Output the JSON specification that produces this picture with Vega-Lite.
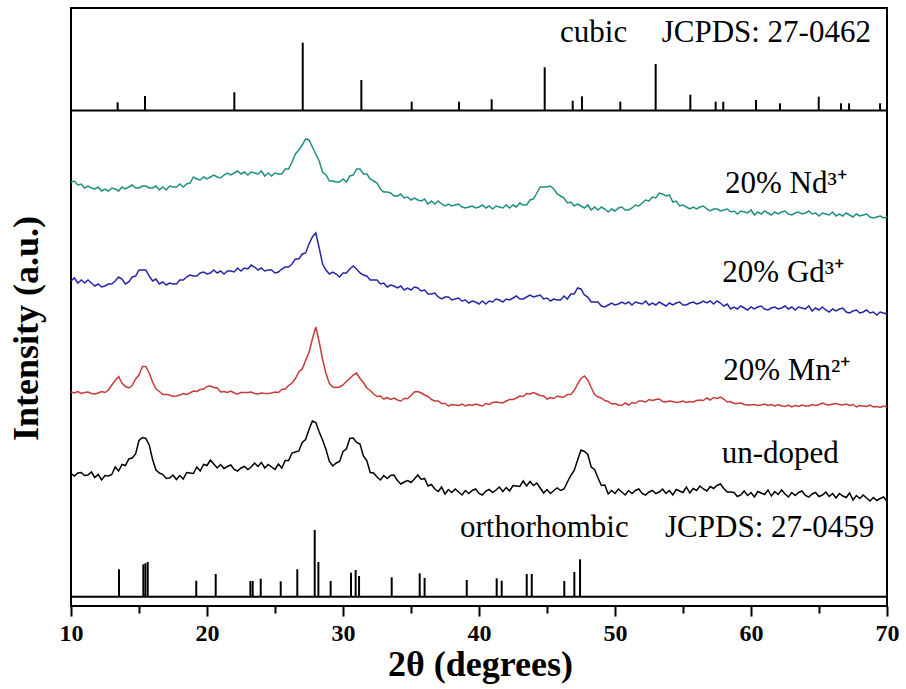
{
  "$schema": "https://vega.github.io/schema/vega-lite/v6.json",
  "width": 816,
  "height": 598,
  "autosize": "none",
  "padding": {"left": 71, "top": 8, "right": 19, "bottom": 83},
  "background": "white",
  "config": {"view": {"stroke": "black", "strokeWidth": 2}, "font": "Liberation Serif"},
  "datasets": {
    "curves": [
{"x":10,"nd":424,"gd":325,"mn":214,"un":132.5},{"x":10.25,"nd":425,"gd":328,"mn":213,"un":130},{"x":10.5,"nd":421,"gd":323,"mn":214.5,"un":133},{"x":10.75,"nd":422,"gd":326,"mn":212.5,"un":133.5},{"x":11,"nd":418,"gd":323,"mn":213.5,"un":130.5},{"x":11.25,"nd":420,"gd":326,"mn":214,"un":131},{"x":11.5,"nd":418,"gd":323,"mn":212.5,"un":134},{"x":11.75,"nd":417,"gd":320,"mn":212,"un":128.5},{"x":12,"nd":419,"gd":322,"mn":213,"un":131.5},{"x":12.25,"nd":415,"gd":319,"mn":214.5,"un":126},{"x":12.5,"nd":417,"gd":320,"mn":213.5,"un":130.5},{"x":12.75,"nd":415,"gd":322,"mn":216,"un":130},{"x":13,"nd":418,"gd":322,"mn":221,"un":131.5},{"x":13.25,"nd":417,"gd":325,"mn":225.5,"un":139},{"x":13.5,"nd":415,"gd":329,"mn":229.5,"un":135},{"x":13.75,"nd":419,"gd":327,"mn":223,"un":141.5},{"x":14,"nd":417,"gd":322,"mn":219.5,"un":140.5},{"x":14.25,"nd":419,"gd":324,"mn":218,"un":147},{"x":14.5,"nd":421,"gd":329,"mn":220.5,"un":148},{"x":14.75,"nd":418,"gd":330,"mn":227,"un":152},{"x":15,"nd":418,"gd":336,"mn":231,"un":165.5},{"x":15.25,"nd":420,"gd":336,"mn":239.5,"un":168.5},{"x":15.5,"nd":420,"gd":336,"mn":239.5,"un":167.5},{"x":15.75,"nd":418,"gd":330,"mn":233,"un":161},
{"x":16,"nd":418,"gd":325,"mn":224,"un":146.5},{"x":16.25,"nd":420,"gd":327,"mn":217,"un":136},{"x":16.5,"nd":416,"gd":322,"mn":214.5,"un":133},{"x":16.75,"nd":419,"gd":324,"mn":211.5,"un":131.5},{"x":17,"nd":416,"gd":321,"mn":211.5,"un":127.5},{"x":17.25,"nd":420,"gd":323,"mn":211,"un":128},{"x":17.5,"nd":419,"gd":322,"mn":209.5,"un":131},{"x":17.75,"nd":419,"gd":322,"mn":210,"un":126.5},{"x":18,"nd":422,"gd":326,"mn":211,"un":130.5},{"x":18.25,"nd":419,"gd":326,"mn":212.5,"un":127},{"x":18.5,"nd":422,"gd":329,"mn":211.5,"un":133.5},{"x":18.75,"nd":423,"gd":331,"mn":213,"un":133},{"x":19,"nd":429,"gd":330,"mn":215,"un":132.5},{"x":19.25,"nd":427,"gd":330,"mn":214.5,"un":139},{"x":19.5,"nd":426,"gd":333,"mn":216.5,"un":135},{"x":19.75,"nd":429,"gd":334,"mn":217,"un":141.5},{"x":20,"nd":427,"gd":332,"mn":219.5,"un":140.5},{"x":20.25,"nd":429,"gd":333,"mn":220,"un":146},{"x":20.5,"nd":431,"gd":336,"mn":218.5,"un":142},{"x":20.75,"nd":429,"gd":333,"mn":218,"un":138},{"x":21,"nd":428,"gd":335,"mn":214,"un":141.5},{"x":21.25,"nd":431,"gd":332,"mn":214.5,"un":137.5},{"x":21.5,"nd":433,"gd":335,"mn":213.5,"un":139.5},{"x":21.75,"nd":431,"gd":335,"mn":215,"un":141},
{"x":22,"nd":433,"gd":334,"mn":213,"un":136.5},{"x":22.25,"nd":435,"gd":338,"mn":212,"un":135},{"x":22.5,"nd":432,"gd":335,"mn":213.5,"un":138},{"x":22.75,"nd":434,"gd":338,"mn":213.5,"un":139.5},{"x":23,"nd":431,"gd":337,"mn":213.5,"un":136.5},{"x":23.25,"nd":434,"gd":341,"mn":214,"un":139},{"x":23.5,"nd":433,"gd":339,"mn":212.5,"un":143},{"x":23.75,"nd":432,"gd":336,"mn":212,"un":139.5},{"x":24,"nd":435,"gd":338,"mn":213,"un":143.5},{"x":24.25,"nd":430,"gd":335,"mn":212.5,"un":138},{"x":24.5,"nd":433,"gd":336,"mn":212.5,"un":141.5},{"x":24.75,"nd":430,"gd":336,"mn":213,"un":139},{"x":25,"nd":433,"gd":333,"mn":214,"un":136.5},{"x":25.25,"nd":432,"gd":334,"mn":213.5,"un":142},{"x":25.5,"nd":432,"gd":337,"mn":216.5,"un":138},{"x":25.75,"nd":437,"gd":339,"mn":217,"un":145.5},{"x":26,"nd":437,"gd":339,"mn":220.5,"un":145.5},{"x":26.25,"nd":444,"gd":342,"mn":223,"un":153},{"x":26.5,"nd":452,"gd":347,"mn":227.5,"un":154},{"x":26.75,"nd":456,"gd":347,"mn":234,"un":155},{"x":27,"nd":461,"gd":352,"mn":237,"un":163.5},{"x":27.25,"nd":467,"gd":353,"mn":245.5,"un":166.5},{"x":27.5,"nd":466,"gd":362,"mn":253.5,"un":176.5},{"x":27.75,"nd":459,"gd":369,"mn":267,"un":185},
{"x":28,"nd":452,"gd":373,"mn":279,"un":183.5},{"x":28.25,"nd":445,"gd":358,"mn":264,"un":174},{"x":28.5,"nd":434,"gd":342,"mn":246.5,"un":166},{"x":28.75,"nd":431,"gd":336,"mn":232.5,"un":156.5},{"x":29,"nd":425,"gd":332,"mn":222.5,"un":144.5},{"x":29.25,"nd":425,"gd":334,"mn":219,"un":140},{"x":29.5,"nd":424,"gd":332,"mn":218.5,"un":143},{"x":29.75,"nd":424,"gd":329,"mn":219,"un":144.5},{"x":30,"nd":427,"gd":333,"mn":221,"un":154.5},{"x":30.25,"nd":424,"gd":333,"mn":224.5,"un":157},{"x":30.5,"nd":430,"gd":337,"mn":227.5,"un":167.5},{"x":30.75,"nd":431,"gd":340,"mn":231,"un":168},{"x":31,"nd":437,"gd":337,"mn":233,"un":163.5},{"x":31.25,"nd":437,"gd":333,"mn":227.5,"un":162},{"x":31.5,"nd":432,"gd":331,"mn":223.5,"un":150},{"x":31.75,"nd":432,"gd":330,"mn":218,"un":145.5},{"x":32,"nd":427,"gd":326,"mn":215.5,"un":133.5},{"x":32.25,"nd":425,"gd":326,"mn":212,"un":133},{"x":32.5,"nd":423,"gd":326,"mn":209.5,"un":129},{"x":32.75,"nd":417,"gd":322,"mn":210,"un":126},{"x":33,"nd":414,"gd":323,"mn":207,"un":130.5},{"x":33.25,"nd":414,"gd":319,"mn":208.5,"un":127.5},{"x":33.5,"nd":413,"gd":321,"mn":206.5,"un":130.5},{"x":33.75,"nd":410,"gd":320,"mn":208,"un":131},
{"x":34,"nd":410,"gd":318,"mn":206,"un":125.5},{"x":34.25,"nd":412,"gd":320,"mn":205,"un":122},{"x":34.5,"nd":408,"gd":316,"mn":207.5,"un":124},{"x":34.75,"nd":409,"gd":318,"mn":207.5,"un":125.5},{"x":35,"nd":406,"gd":316,"mn":210.5,"un":123.5},{"x":35.25,"nd":408,"gd":319,"mn":214,"un":127},{"x":35.5,"nd":406,"gd":318,"mn":214.5,"un":131},{"x":35.75,"nd":405,"gd":315,"mn":213,"un":126.5},{"x":36,"nd":407,"gd":316,"mn":211,"un":127.5},{"x":36.25,"nd":402,"gd":312,"mn":209.5,"un":120},{"x":36.5,"nd":405,"gd":312,"mn":206.5,"un":121.5},{"x":36.75,"nd":402,"gd":313,"mn":205,"un":117},{"x":37,"nd":405,"gd":309,"mn":205,"un":114.5},{"x":37.25,"nd":402,"gd":307,"mn":202.5,"un":119},{"x":37.5,"nd":400,"gd":309,"mn":202.5,"un":112},{"x":37.75,"nd":402,"gd":309,"mn":200,"un":116.5},{"x":38,"nd":400,"gd":306,"mn":201.5,"un":113.5},{"x":38.25,"nd":401,"gd":307,"mn":201,"un":117},{"x":38.5,"nd":402,"gd":308,"mn":200.5,"un":114},{"x":38.75,"nd":399,"gd":305,"mn":202,"un":111},{"x":39,"nd":398,"gd":306,"mn":200,"un":115.5},{"x":39.25,"nd":399,"gd":303,"mn":201.5,"un":112.5},{"x":39.5,"nd":400,"gd":305,"mn":200.5,"un":115.5},{"x":39.75,"nd":398,"gd":304,"mn":202,"un":117},
{"x":40,"nd":399,"gd":302,"mn":201,"un":112.5},{"x":40.25,"nd":401,"gd":305,"mn":200,"un":111},{"x":40.5,"nd":398,"gd":302,"mn":202.5,"un":115},{"x":40.75,"nd":400,"gd":305,"mn":201.5,"un":116.5},{"x":41,"nd":397,"gd":304,"mn":203.5,"un":113.5},{"x":41.25,"nd":400,"gd":307,"mn":204,"un":116},{"x":41.5,"nd":399,"gd":306,"mn":203.5,"un":119},{"x":41.75,"nd":398,"gd":304,"mn":203,"un":114.5},{"x":42,"nd":401,"gd":307,"mn":205,"un":118.5},{"x":42.25,"nd":398,"gd":306,"mn":206.5,"un":115},{"x":42.5,"nd":401,"gd":308,"mn":206.5,"un":120.5},{"x":42.75,"nd":399,"gd":310,"mn":208,"un":120},{"x":43,"nd":403,"gd":307,"mn":210,"un":119.5},{"x":43.25,"nd":401,"gd":307,"mn":209.5,"un":125},{"x":43.5,"nd":401,"gd":309,"mn":212.5,"un":120},{"x":43.75,"nd":406,"gd":311,"mn":212,"un":124.5},{"x":44,"nd":407,"gd":309,"mn":213.5,"un":120.5},{"x":44.25,"nd":413,"gd":310,"mn":212,"un":123},{"x":44.5,"nd":419,"gd":311,"mn":210.5,"un":118},{"x":44.75,"nd":419,"gd":307,"mn":210,"un":113},{"x":45,"nd":419,"gd":308,"mn":207,"un":116.5},{"x":45.25,"nd":420,"gd":305,"mn":208.5,"un":112.5},{"x":45.5,"nd":417,"gd":307,"mn":207.5,"un":115.5},{"x":45.75,"nd":412,"gd":306,"mn":210,"un":118},
{"x":46,"nd":410,"gd":306,"mn":209,"un":115.5},{"x":46.25,"nd":408,"gd":310,"mn":209,"un":117},{"x":46.5,"nd":403,"gd":307,"mn":211.5,"un":124},{"x":46.75,"nd":404,"gd":312,"mn":211.5,"un":130.5},{"x":47,"nd":400,"gd":312,"mn":215.5,"un":135.5},{"x":47.25,"nd":402,"gd":318,"mn":222,"un":146},{"x":47.5,"nd":400,"gd":317,"mn":227.5,"un":156},{"x":47.75,"nd":398,"gd":311,"mn":230,"un":154.5},{"x":48,"nd":401,"gd":309,"mn":226,"un":151.5},{"x":48.25,"nd":396,"gd":304,"mn":218.5,"un":139},{"x":48.5,"nd":399,"gd":304,"mn":211.5,"un":136.5},{"x":48.75,"nd":396,"gd":304,"mn":209,"un":128},{"x":49,"nd":399,"gd":300,"mn":208,"un":120.5},{"x":49.25,"nd":397,"gd":299,"mn":205.5,"un":121},{"x":49.5,"nd":394,"gd":301,"mn":204.5,"un":112},{"x":49.75,"nd":397,"gd":303,"mn":202,"un":115.5},{"x":50,"nd":395,"gd":301,"mn":202.5,"un":112.5},{"x":50.25,"nd":398,"gd":302,"mn":201,"un":117},{"x":50.5,"nd":399,"gd":304,"mn":200.5,"un":114},{"x":50.75,"nd":396,"gd":302,"mn":203,"un":111},{"x":51,"nd":396,"gd":304,"mn":201,"un":115.5},{"x":51.25,"nd":398,"gd":301,"mn":203.5,"un":112.5},{"x":51.5,"nd":401,"gd":304,"mn":202.5,"un":115.5},{"x":51.75,"nd":400,"gd":303,"mn":205,"un":117},
{"x":52,"nd":403,"gd":302,"mn":205,"un":112.5},{"x":52.25,"nd":406,"gd":305,"mn":204,"un":111},{"x":52.5,"nd":405,"gd":301,"mn":206.5,"un":114},{"x":52.75,"nd":409,"gd":303,"mn":205.5,"un":115.5},{"x":53,"nd":408,"gd":301,"mn":206.5,"un":112.5},{"x":53.25,"nd":413,"gd":304,"mn":207,"un":114},{"x":53.5,"nd":412,"gd":302,"mn":204.5,"un":117},{"x":53.75,"nd":410,"gd":300,"mn":204,"un":112.5},{"x":54,"nd":411,"gd":303,"mn":205,"un":115.5},{"x":54.25,"nd":404,"gd":301,"mn":204.5,"un":111},{"x":54.5,"nd":405,"gd":303,"mn":203.5,"un":116.5},{"x":54.75,"nd":400,"gd":304,"mn":204,"un":115},{"x":55,"nd":401,"gd":301,"mn":205,"un":113.5},{"x":55.25,"nd":399,"gd":301,"mn":203.5,"un":119},{"x":55.5,"nd":397,"gd":303,"mn":204.5,"un":113},{"x":55.75,"nd":399,"gd":304,"mn":204,"un":117.5},{"x":56,"nd":397,"gd":302,"mn":205.5,"un":115.5},{"x":56.25,"nd":399,"gd":303,"mn":206,"un":120},{"x":56.5,"nd":400,"gd":305,"mn":205.5,"un":117},{"x":56.75,"nd":397,"gd":303,"mn":208,"un":115},{"x":57,"nd":395,"gd":305,"mn":206,"un":119.5},{"x":57.25,"nd":397,"gd":302,"mn":208.5,"un":117.5},{"x":57.5,"nd":397,"gd":305,"mn":207.5,"un":120.5},{"x":57.75,"nd":395,"gd":303,"mn":209,"un":122},
{"x":58,"nd":396,"gd":300,"mn":207,"un":117.5},{"x":58.25,"nd":397,"gd":302,"mn":204,"un":114},{"x":58.5,"nd":394,"gd":297,"mn":204.5,"un":114},{"x":58.75,"nd":395,"gd":299,"mn":202.5,"un":113.5},{"x":59,"nd":392,"gd":297,"mn":202.5,"un":109.5},{"x":59.25,"nd":395,"gd":300,"mn":203,"un":111},{"x":59.5,"nd":394,"gd":298,"mn":201.5,"un":115},{"x":59.75,"nd":393,"gd":296,"mn":201,"un":110.5},{"x":60,"nd":396,"gd":299,"mn":201,"un":113.5},{"x":60.25,"nd":391,"gd":297,"mn":201.5,"un":109},{"x":60.5,"nd":394,"gd":299,"mn":200.5,"un":114.5},{"x":60.75,"nd":392,"gd":300,"mn":201,"un":113},{"x":61,"nd":395,"gd":297,"mn":202,"un":111.5},{"x":61.25,"nd":393,"gd":296,"mn":200.5,"un":116},{"x":61.5,"nd":391,"gd":298,"mn":201.5,"un":110},{"x":61.75,"nd":394,"gd":299,"mn":200,"un":114.5},{"x":62,"nd":392,"gd":297,"mn":201.5,"un":111.5},{"x":62.25,"nd":394,"gd":298,"mn":200,"un":116},{"x":62.5,"nd":395,"gd":300,"mn":199.5,"un":112},{"x":62.75,"nd":392,"gd":297,"mn":201,"un":109},{"x":63,"nd":391,"gd":299,"mn":199,"un":113.5},{"x":63.25,"nd":393,"gd":296,"mn":200.5,"un":110.5},{"x":63.5,"nd":394,"gd":299,"mn":199.5,"un":113.5},{"x":63.75,"nd":392,"gd":298,"mn":201,"un":115},
{"x":64,"nd":393,"gd":297,"mn":200,"un":110.5},{"x":64.25,"nd":395,"gd":300,"mn":200,"un":109},{"x":64.5,"nd":392,"gd":295,"mn":201.5,"un":112},{"x":64.75,"nd":393,"gd":298,"mn":200.5,"un":113.5},{"x":65,"nd":390,"gd":296,"mn":201.5,"un":109.5},{"x":65.25,"nd":393,"gd":299,"mn":203,"un":111},{"x":65.5,"nd":392,"gd":296,"mn":201.5,"un":114},{"x":65.75,"nd":391,"gd":294,"mn":201,"un":109.5},{"x":66,"nd":394,"gd":297,"mn":202,"un":112.5},{"x":66.25,"nd":390,"gd":295,"mn":202.5,"un":108},{"x":66.5,"nd":392,"gd":297,"mn":201.5,"un":112.5},{"x":66.75,"nd":390,"gd":298,"mn":201,"un":110},{"x":67,"nd":393,"gd":294,"mn":202,"un":108.5},{"x":67.25,"nd":391,"gd":293,"mn":200.5,"un":113},{"x":67.5,"nd":389,"gd":295,"mn":201.5,"un":106},{"x":67.75,"nd":392,"gd":296,"mn":199,"un":110.5},{"x":68,"nd":390,"gd":293,"mn":200.5,"un":107.5},{"x":68.25,"nd":391,"gd":294,"mn":200,"un":111},{"x":68.5,"nd":392,"gd":296,"mn":199.5,"un":108},{"x":68.75,"nd":389,"gd":293,"mn":201,"un":105},{"x":69,"nd":388,"gd":294,"mn":199,"un":108.5},{"x":69.25,"nd":389,"gd":291,"mn":199.5,"un":105.5},{"x":69.5,"nd":390,"gd":294,"mn":198.5,"un":107.5},{"x":69.75,"nd":388,"gd":293,"mn":200,"un":109},{"x":70,"nd":389,"gd":292,"mn":199,"un":104.5}
    ],
    "cubic": [
{"x":13.43,"y":495.5,"y2":503.7},{"x":15.44,"y":495.5,"y2":510},{"x":22.01,"y":495.5,"y2":513.7},{"x":27.04,"y":495.5,"y2":563.3},{"x":31.35,"y":495.5,"y2":526},{"x":35.05,"y":495.5,"y2":504.3},{"x":38.53,"y":495.5,"y2":504.3},{"x":40.93,"y":495.5,"y2":506.7},{"x":44.83,"y":495.5,"y2":538.7},{"x":46.89,"y":495.5,"y2":505.3},{"x":47.57,"y":495.5,"y2":509.7},{"x":50.39,"y":495.5,"y2":504.3},{"x":52.99,"y":495.5,"y2":542},{"x":55.54,"y":495.5,"y2":511.3},{"x":57.4,"y":495.5,"y2":504.3},{"x":57.96,"y":495.5,"y2":504.3},{"x":60.37,"y":495.5,"y2":506},{"x":62.13,"y":495.5,"y2":502.7},{"x":64.98,"y":495.5,"y2":509.3},{"x":66.62,"y":495.5,"y2":502.7},{"x":67.21,"y":495.5,"y2":502.7},{"x":69.49,"y":495.5,"y2":502.7}
    ],
    "ortho": [
{"x":13.53,"y":9.3,"y2":36.7},{"x":15.32,"y":9.3,"y2":41.7},{"x":15.47,"y":9.3,"y2":42.7},{"x":15.64,"y":9.3,"y2":44},{"x":19.21,"y":9.3,"y2":25.3},{"x":20.64,"y":9.3,"y2":32},{"x":23.19,"y":9.3,"y2":25},{"x":23.36,"y":9.3,"y2":25},{"x":23.95,"y":9.3,"y2":27.3},{"x":25.42,"y":9.3,"y2":24.7},{"x":26.64,"y":9.3,"y2":36.7},{"x":27.92,"y":9.3,"y2":76},{"x":28.19,"y":9.3,"y2":44},{"x":29.09,"y":9.3,"y2":25},{"x":30.59,"y":9.3,"y2":33.3},{"x":30.93,"y":9.3,"y2":36},{"x":31.18,"y":9.3,"y2":30},{"x":33.58,"y":9.3,"y2":28.7},{"x":35.64,"y":9.3,"y2":32.7},{"x":36.0,"y":9.3,"y2":28},{"x":39.1,"y":9.3,"y2":26},{"x":41.3,"y":9.3,"y2":27.7},{"x":41.67,"y":9.3,"y2":25.3},{"x":43.51,"y":9.3,"y2":32},{"x":43.88,"y":9.3,"y2":32},{"x":46.27,"y":9.3,"y2":25},{"x":47.01,"y":9.3,"y2":34},{"x":47.43,"y":9.3,"y2":46.7}
    ],
    "seps": [
{"x":10,"x2":70,"y":495.5},{"x":10,"x2":70,"y":9.3}
    ],
    "labels": [
{"x":45.96,"y":564,"t":"cubic"},{"x":53.43,"y":564,"t":"JCPDS: 27-0462"},{"x":38.6,"y":69,"t":"orthorhombic"},{"x":53.68,"y":69,"t":"JCPDS: 27-0459"},{"x":58.09,"y":413,"t":"20% Nd³⁺"},{"x":57.89,"y":324,"t":"20% Gd³⁺"},{"x":57.96,"y":226,"t":"20% Mn²⁺"},{"x":57.85,"y":143,"t":"un-doped"}
    ]
  },
  "encoding": {
    "x": {
      "field": "x", "type": "quantitative",
      "scale": {"domain": [10, 70], "nice": false, "zero": false},
      "axis": {
        "title": "2θ (degrees)",
        "values": [10, 15, 20, 25, 30, 35, 40, 45, 50, 55, 60, 65, 70],
        "labelExpr": "datum.value % 10 === 0 ? datum.label : ''",
        "tickSize": {"condition": {"test": "datum.value % 10 === 0", "value": 10}, "value": 7},
        "tickColor": "black", "tickWidth": 2, "domain": false, "grid": false,
        "labelFont": "Liberation Serif", "labelFontSize": 24, "labelFontWeight": "bold", "labelColor": "black",
        "labelPadding": 5, "labelFlush": false, "labelOverlap": false,
        "titleFont": "Liberation Serif", "titleFontSize": 36, "titleFontWeight": "bold", "titleColor": "black",
        "titleBaseline": "alphabetic", "titleX": 409, "titleY": 69
      }
    },
    "y": {
      "field": "y", "type": "quantitative",
      "scale": {"domain": [0, 598], "nice": false, "zero": false},
      "axis": {
        "title": "Intensity (a.u.)", "labels": false, "ticks": false, "domain": false, "grid": false,
        "titleFont": "Liberation Serif", "titleFontSize": 36, "titleFontWeight": "bold", "titleColor": "black",
        "titleAngle": -90, "titleAlign": "center", "titleBaseline": "alphabetic", "titleX": -34, "titleY": 320
      }
    }
  },
  "layer": [
    {
      "data": {"name": "curves"},
      "transform": [{"fold": ["nd", "gd", "mn", "un"], "as": ["s", "y"]}],
      "mark": {"type": "line", "strokeWidth": 1.5},
      "encoding": {
        "color": {"field": "s", "type": "nominal", "legend": null,
          "scale": {"domain": ["nd", "gd", "mn", "un"], "range": ["#1f9080", "#2626ab", "#c93a3a", "#000000"]}}
      }
    },
    {
      "data": {"name": "cubic"},
      "mark": {"type": "rule", "color": "black", "strokeWidth": 2},
      "encoding": {"y2": {"field": "y2"}}
    },
    {
      "data": {"name": "ortho"},
      "mark": {"type": "rule", "color": "black", "strokeWidth": 2},
      "encoding": {"y2": {"field": "y2"}}
    },
    {
      "data": {"name": "seps"},
      "mark": {"type": "rule", "color": "black", "strokeWidth": 2},
      "encoding": {"x2": {"field": "x2"}}
    },
    {
      "data": {"name": "labels"},
      "mark": {"type": "text", "align": "left", "baseline": "alphabetic", "font": "Liberation Serif", "fontSize": 31, "color": "black"},
      "encoding": {"text": {"field": "t"}}
    }
  ]
}
